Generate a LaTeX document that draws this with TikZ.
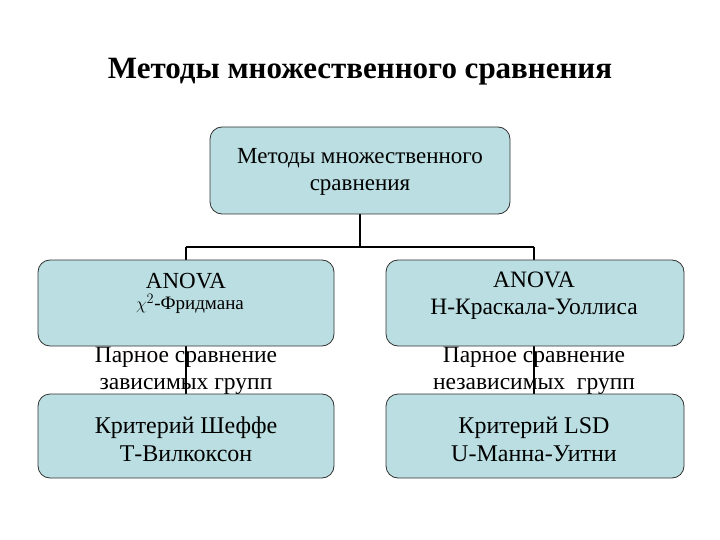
\documentclass[tikz,border=0pt]{standalone}
\usepackage{fontspec}
\setmainfont{Liberation Serif}
\definecolor{boxfill}{RGB}{186,222,225}
\definecolor{boxline}{RGB}{50,50,50}
\begin{document}
\begin{tikzpicture}[x=1pt,y=-1pt,
  box/.style={draw=boxline,fill=boxfill,rounded corners=12pt,line width=0.8pt},
  lbl/.style={inner sep=0pt,align=center,font=\fontsize{23.5}{27}\selectfont},
  conn/.style={line width=1.5pt,black}]
\useasboundingbox (0,0) rectangle (720,540);
\node[font=\fontsize{31}{27}\selectfont\bfseries] (title) at (360,72) {Методы множественного сравнения};
% labels behind lines
\node[lbl] (pl) at (186,371) {Парное сравнение\\зависимых групп};
\node[lbl] (pr) at (534,371) {Парное сравнение\\независимых\ \ групп};
% connectors
\coordinate (j) at (360,247);
\coordinate (jl) at (186,247);
\coordinate (jr) at (534,247);
\draw[conn] (360,214) -- (j);
\draw[conn] (jl) -- (jr);
\draw[conn] (jl) -- (186,260);
\draw[conn] (jr) -- (534,260);
\draw[conn] (186,346) -- (186,394);
\draw[conn] (534,346) -- (534,394);
% boxes
\draw[box] (210,127) rectangle (510,214);
\node[lbl,font=\fontsize{23}{27}\selectfont] (top) at (360,172) {Методы множественного\\сравнения};
\draw[box] (38,260) rectangle (334,346);
\node[inner sep=0pt,font=\fontsize{23}{20}\selectfont] (a1) at (186,281) {ANOVA};
\node[inner sep=0pt,font=\fontsize{19}{20}\selectfont] (a2) at (190,304) {$\chi^2$-Фридмана};
\draw[box] (386,260) rectangle (684,346);
\node[lbl] (b) at (534,296) {ANOVA\\Н-Краскала-Уоллиса};
\draw[box] (38,394) rectangle (334,478);
\node[lbl,font=\fontsize{24}{28}\selectfont] (c) at (186,439) {Критерий Шеффе\\Т-Вилкоксон};
\draw[box] (386,394) rectangle (684,478);
\node[lbl,font=\fontsize{24}{28}\selectfont] (d) at (534,439) {Критерий LSD\\U-Манна-Уитни};
\end{tikzpicture}
\end{document}
